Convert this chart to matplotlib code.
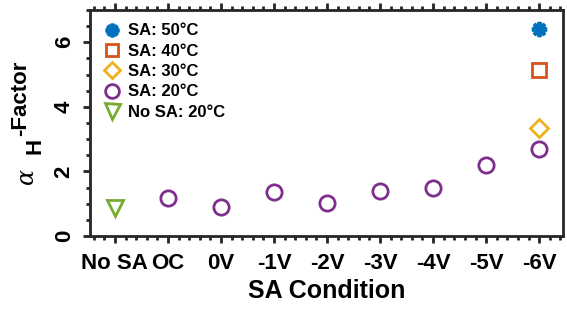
import numpy as np
import matplotlib
matplotlib.use("Agg")
import matplotlib.pyplot as plt
from matplotlib.ticker import MultipleLocator

plt.rcParams['font.family'] = ['Liberation Sans', 'DejaVu Sans']
plt.rcParams['font.weight'] = 'bold'

# data
tick_labels = ['No SA', 'OC', '0V', '-1V', '-2V', '-3V', '-4V', '-5V', '-6V']
nosa_x = [0]
nosa_20 = [0.87]
sa20_x = [1, 2, 3, 4, 5, 6, 7, 8]
sa20 = [1.19, 0.91, 1.37, 1.01, 1.40, 1.50, 2.20, 2.71]
sa30_x = [8]
sa30 = [3.35]
sa40_x = [8]
sa40 = [5.13]
sa50_x = [8]
sa50 = [6.40]

W, H = 567, 312
fig = plt.figure(figsize=(W / 100, H / 100), dpi=100)
ax = fig.add_axes([90 / W, 1 - 236 / H, (563 - 90) / W, (236 - 10) / H])

ms = 11
mew = 2
ax.plot(sa50_x, sa50, ls='none', marker=(8, 2, 0), color='#0072BD', ms=ms, mew=2.8, label='SA: 50°C')
ax.plot(sa40_x, sa40, ls='none', marker='s', mfc='none', mec='#D95319', ms=ms - 1, mew=mew, label='SA: 40°C')
ax.plot(sa30_x, sa30, ls='none', marker='D', mfc='none', mec='#EDB120', ms=ms - 2, mew=mew, label='SA: 30°C')
ax.plot(sa20_x, sa20, ls='none', marker='o', mfc='none', mec='#7E2F8E', ms=ms, mew=mew, label='SA: 20°C')
ax.plot(nosa_x, nosa_20, ls='none', marker='v', mfc='none', mec='#77AC30', ms=ms + 1, mew=mew, label='No SA: 20°C')

ax.set_xlim(-0.47, 8.45)
ax.set_ylim(0, 7)
ax.set_xticks(np.arange(len(tick_labels)))
ax.set_xticklabels(tick_labels, fontsize=16, fontweight='bold')
ax.xaxis.set_minor_locator(MultipleLocator(0.2))
ax.set_yticks([0, 2, 4, 6])
ax.yaxis.set_minor_locator(MultipleLocator(0.5))
for lbl in ax.get_yticklabels():
    lbl.set_rotation(90)
    lbl.set_va('center')
    lbl.set_fontsize(16)
    lbl.set_fontweight('bold')

ax.tick_params(which='both', direction='out', width=2, top=True, right=False, colors='#262626')
ax.tick_params(axis='x', which='major', length=5, pad=7)
ax.tick_params(axis='y', which='major', length=5, pad=6)
ax.tick_params(which='minor', length=3)
ax.tick_params(labelcolor='black')
for s in ax.spines.values():
    s.set_linewidth(2)
    s.set_color('#262626')

ax.set_xlabel('SA Condition', fontsize=18, fontweight='bold', labelpad=4)

# y label built from pieces: serif alpha, large subscript H, then "-Factor"
fig.text(26 / W, 1 - 176 / H, 'α', rotation=90, ha='center', va='center',
         fontsize=17, family='DejaVu Serif', style='italic', fontweight='normal')
fig.text(35 / W, 1 - 146 / H, 'H', rotation=90, ha='center', va='center',
         fontsize=16, fontweight='bold')
fig.text(21 / W, 1 - 98 / H, '-Factor', rotation=90, ha='center', va='center',
         fontsize=16, fontweight='bold')

ax.legend(loc='upper left', frameon=False, prop={'size': 12, 'weight': 'bold'},
          handlelength=1, handletextpad=0.5, labelspacing=0.32, borderaxespad=0.4,
          markerscale=0.9)

fig.savefig('out.png', dpi=100)
